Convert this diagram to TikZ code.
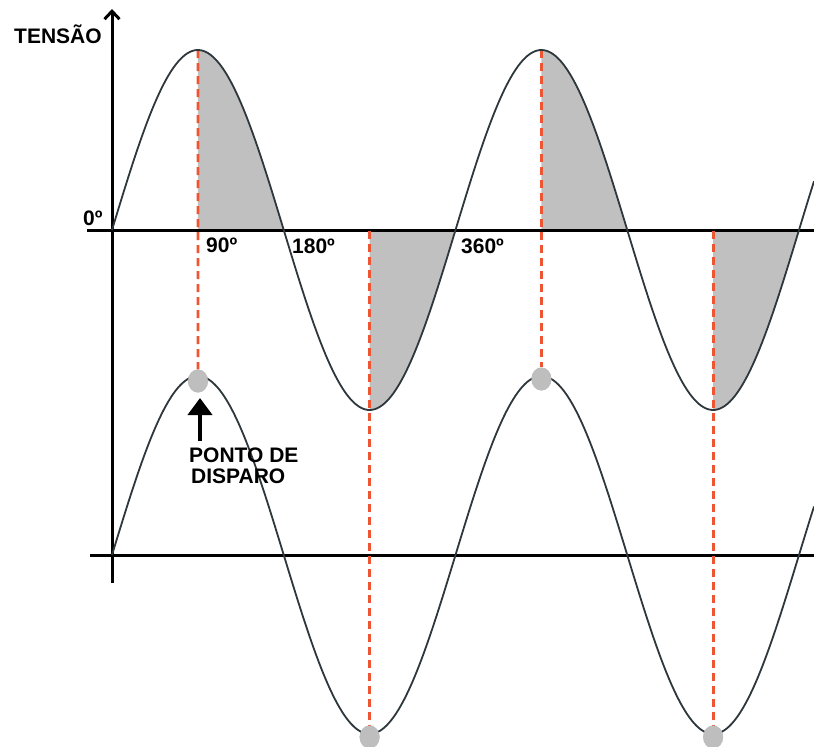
\documentclass[tikz,border=0pt]{standalone}
\usepackage{fontspec}
\setmainfont{Liberation Sans}
\usetikzlibrary{arrows.meta,shapes.geometric}
\definecolor{dashred}{RGB}{238,85,50}
\definecolor{shadegrey}{RGB}{192,192,192}
\definecolor{dotgrey}{RGB}{190,190,190}
\definecolor{wavecol}{RGB}{45,55,60}
\begin{document}
\begin{tikzpicture}[x=1pt,y=-1pt,
  declare function={ws(\t)=sin((\t-112)*1.048035);},
  axisline/.style={line width=3pt,black},
  wavecurve/.style={line width=1.8pt,wavecol},
  marker/.style={dashred,line width=2.8pt,dash pattern=on 8pt off 5pt},
  firedot/.style={ellipse,fill=dotgrey,minimum width=20pt,minimum height=23pt,inner sep=0pt},
  lbl/.style={font=\bfseries\fontsize{21}{21}\selectfont,inner sep=0pt,anchor=base west},
  shadearea/.style={fill=shadegrey}]
\useasboundingbox (0,0) rectangle (814,747);
% shaded areas
\fill[shadearea] (197.9,230) -- plot[domain=197.9:283.75,samples=40] (\x,{230-180*ws(\x)}) -- cycle;
\fill[shadearea] (369.6,230) -- plot[domain=369.6:455.5,samples=40] (\x,{230-180*ws(\x)}) -- cycle;
\fill[shadearea] (541.4,230) -- plot[domain=541.4:627.25,samples=40] (\x,{230-180*ws(\x)}) -- cycle;
\fill[shadearea] (713.1,230) -- plot[domain=713.1:799,samples=40] (\x,{230-180*ws(\x)}) -- cycle;
% axes
\coordinate (vb) at (112,583);
\coordinate (vt) at (112,9);
\coordinate (h1l) at (87,230);
\coordinate (h1r) at (814,230);
\coordinate (h2l) at (90,555);
\coordinate (h2r) at (814,555);
\draw[axisline] (h1l) -- (h1r);
\draw[axisline] (h2l) -- (h2r);
\draw[axisline,-{Straight Barb[length=8pt,width=15pt]}] (vb) -- (vt);
% firing dots
\node[firedot] (d1) at (198,381) {};
\node[firedot] (d2) at (541.4,379) {};
\node[firedot] (d3) at (369.6,737) {};
\node[firedot] (d4) at (713.1,737) {};
% red dashed markers
\coordinate (m1) at (197.9,50);
\coordinate (m2) at (541.4,50);
\coordinate (m3) at (369.6,231);
\coordinate (m4) at (713.1,231);
\draw[marker] (m1) -- (d1.north);
\draw[marker] (m2) -- (d2.north);
\draw[marker] (m3) -- (d3.north);
\draw[marker] (m4) -- (d4.north);
% waves
\draw[wavecurve] plot[domain=112:814,samples=300] (\x,{230-180*ws(\x)});
\draw[wavecurve] plot[domain=112:814,samples=300] (\x,{555-179*ws(\x)});
% dots on top
\node[firedot] at (d1) {};
\node[firedot] at (d2) {};
\node[firedot] at (d3) {};
\node[firedot] at (d4) {};
% arrow
\coordinate (pa) at (200,441);
\coordinate (pb) at (200,398);
\draw[line width=4pt,-{Triangle[length=17pt,width=24pt]}] (pa) -- (pb);
% labels
\node[lbl] (tensao) at (14,43) {TENSÃO};
\node[lbl] (l0) at (83,225) {0º};
\node[lbl] (l90) at (206,252) {90º};
\node[lbl] (l180) at (292,253) {180º};
\node[lbl] (l360) at (461,253) {360º};
\node[lbl] (p1) at (189,462) {PONTO DE};
\node[lbl] (p2) at (191,483) {DISPARO};
\end{tikzpicture}
\end{document}
